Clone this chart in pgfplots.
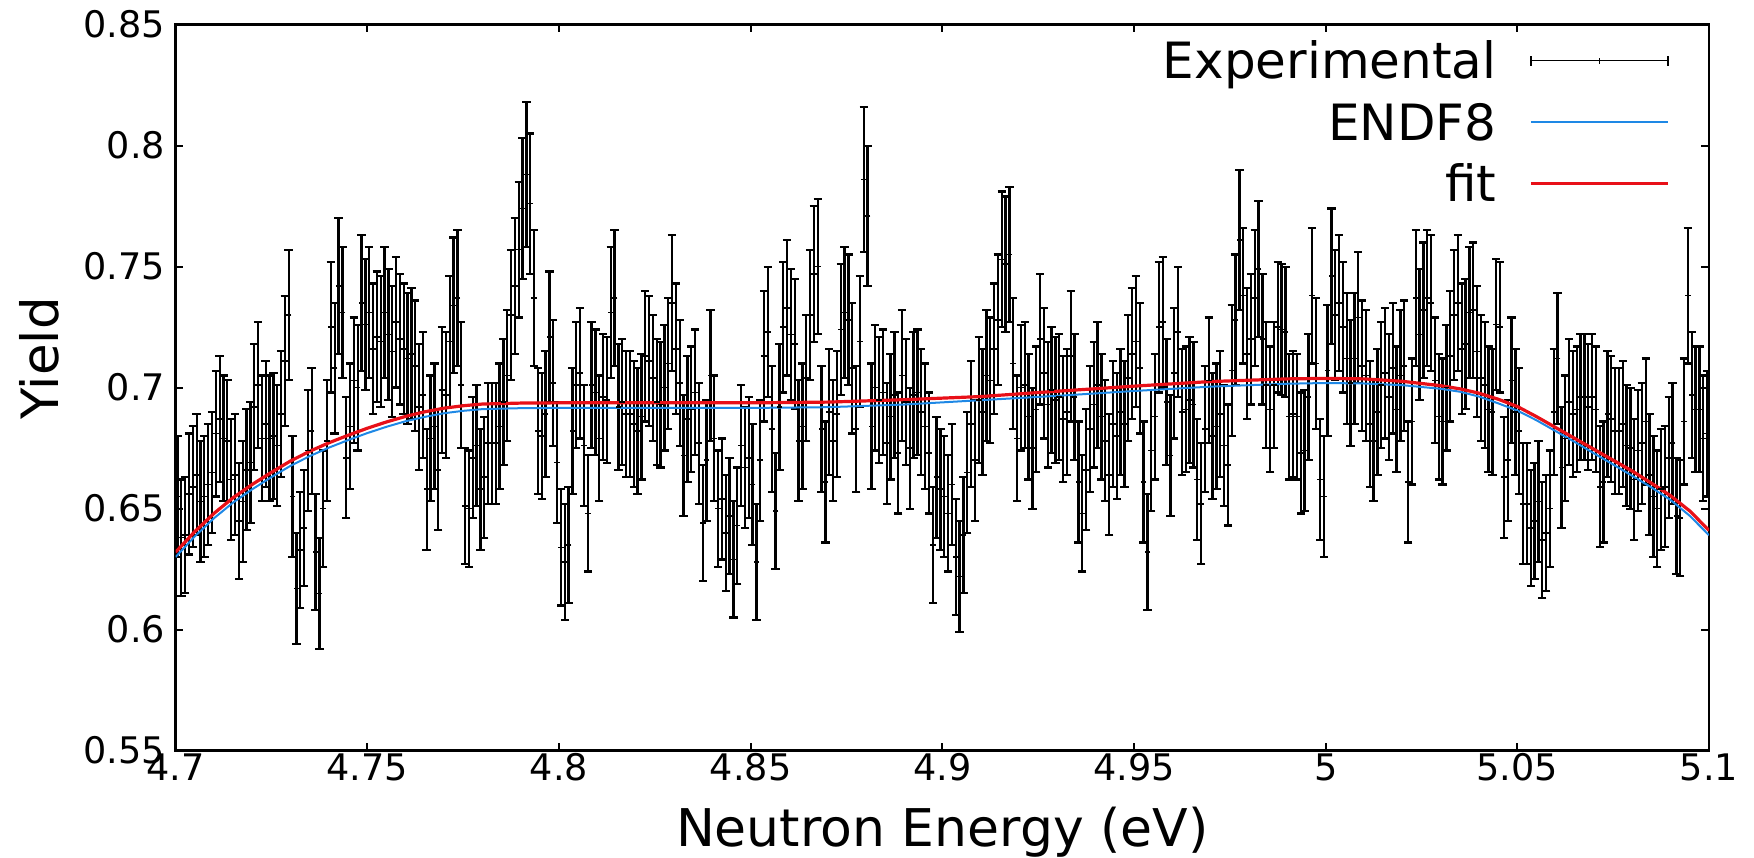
\documentclass[border=0pt]{standalone}
\usepackage{fontspec}
\setmainfont{DejaVu Sans}
\usepackage{pgfplots}
\usepackage{pgfplotstable}
\pgfplotsset{compat=1.18}
\definecolor{endfblue}{RGB}{30,136,229}
\definecolor{fitred}{RGB}{232,16,24}

\pgfplotstableread{
x y e
4.7005 0.655 0.025
4.7015 0.638 0.024
4.7025 0.639 0.024
4.7035 0.656 0.025
4.7045 0.659 0.025
4.7055 0.664 0.025
4.7065 0.653 0.025
4.7075 0.655 0.025
4.7085 0.660 0.025
4.7095 0.665 0.025
4.7105 0.681 0.026
4.7115 0.687 0.026
4.7125 0.679 0.026
4.7135 0.678 0.025
4.7145 0.662 0.025
4.7155 0.664 0.025
4.7165 0.645 0.024
4.7175 0.653 0.025
4.7185 0.666 0.025
4.7195 0.669 0.025
4.7205 0.692 0.026
4.7215 0.701 0.026
4.7225 0.679 0.026
4.7235 0.685 0.026
4.7245 0.679 0.026
4.7255 0.680 0.026
4.7265 0.676 0.025
4.7275 0.689 0.026
4.7285 0.711 0.027
4.7295 0.730 0.027
4.7305 0.655 0.025
4.7315 0.617 0.023
4.7325 0.633 0.024
4.7335 0.642 0.024
4.7345 0.674 0.025
4.7355 0.682 0.026
4.7365 0.632 0.024
4.7375 0.615 0.023
4.7385 0.650 0.024
4.7395 0.678 0.025
4.7405 0.725 0.027
4.7415 0.708 0.027
4.7425 0.742 0.028
4.7435 0.731 0.027
4.7445 0.671 0.025
4.7455 0.684 0.026
4.7465 0.703 0.026
4.7475 0.700 0.026
4.7485 0.735 0.028
4.7495 0.726 0.027
4.7505 0.731 0.027
4.7515 0.716 0.027
4.7525 0.721 0.027
4.7535 0.719 0.027
4.7545 0.731 0.027
4.7555 0.722 0.027
4.7565 0.715 0.027
4.7575 0.727 0.027
4.7585 0.720 0.027
4.7595 0.716 0.027
4.7605 0.712 0.027
4.7615 0.714 0.027
4.7625 0.709 0.027
4.7635 0.692 0.026
4.7645 0.697 0.026
4.7655 0.658 0.025
4.7665 0.679 0.026
4.7675 0.684 0.026
4.7685 0.666 0.025
4.7695 0.699 0.026
4.7705 0.697 0.026
4.7715 0.719 0.027
4.7725 0.734 0.028
4.7735 0.737 0.028
4.7745 0.701 0.026
4.7755 0.651 0.024
4.7765 0.650 0.024
4.7775 0.671 0.025
4.7785 0.676 0.025
4.7795 0.658 0.025
4.7805 0.663 0.025
4.7815 0.677 0.025
4.7825 0.677 0.025
4.7835 0.677 0.025
4.7845 0.684 0.026
4.7855 0.694 0.026
4.7865 0.705 0.027
4.7875 0.730 0.027
4.7885 0.742 0.028
4.7895 0.757 0.028
4.7905 0.774 0.029
4.7915 0.788 0.030
4.7925 0.776 0.029
4.7935 0.737 0.028
4.7945 0.682 0.026
4.7955 0.680 0.026
4.7965 0.689 0.026
4.7975 0.721 0.027
4.7985 0.702 0.026
4.7995 0.669 0.025
4.8005 0.634 0.024
4.8015 0.628 0.024
4.8025 0.635 0.024
4.8035 0.682 0.026
4.8045 0.701 0.026
4.8055 0.706 0.027
4.8065 0.676 0.025
4.8075 0.648 0.024
4.8085 0.701 0.026
4.8095 0.698 0.026
4.8105 0.679 0.026
4.8115 0.696 0.026
4.8125 0.695 0.026
4.8135 0.731 0.027
4.8145 0.737 0.028
4.8155 0.692 0.026
4.8165 0.694 0.026
4.8175 0.689 0.026
4.8185 0.689 0.026
4.8195 0.685 0.026
4.8205 0.682 0.026
4.8215 0.688 0.026
4.8225 0.713 0.027
4.8235 0.711 0.027
4.8245 0.704 0.026
4.8255 0.694 0.026
4.8265 0.693 0.026
4.8275 0.700 0.026
4.8285 0.710 0.027
4.8295 0.735 0.028
4.8305 0.716 0.027
4.8315 0.702 0.026
4.8325 0.672 0.025
4.8335 0.687 0.026
4.8345 0.691 0.026
4.8355 0.698 0.026
4.8365 0.677 0.025
4.8375 0.644 0.024
4.8385 0.670 0.025
4.8395 0.705 0.027
4.8405 0.679 0.026
4.8415 0.650 0.024
4.8425 0.654 0.025
4.8435 0.640 0.024
4.8445 0.647 0.024
4.8455 0.629 0.024
4.8465 0.643 0.024
4.8475 0.676 0.025
4.8485 0.667 0.025
4.8495 0.671 0.025
4.8505 0.660 0.025
4.8515 0.628 0.024
4.8525 0.670 0.025
4.8535 0.713 0.027
4.8545 0.723 0.027
4.8555 0.683 0.026
4.8565 0.649 0.024
4.8575 0.692 0.026
4.8585 0.725 0.027
4.8595 0.733 0.028
4.8605 0.722 0.027
4.8615 0.718 0.027
4.8625 0.678 0.025
4.8635 0.684 0.026
4.8645 0.704 0.026
4.8655 0.730 0.027
4.8665 0.747 0.028
4.8675 0.750 0.028
4.8685 0.683 0.026
4.8695 0.661 0.025
4.8705 0.690 0.026
4.8715 0.678 0.025
4.8725 0.689 0.026
4.8735 0.724 0.027
4.8745 0.731 0.027
4.8755 0.728 0.027
4.8765 0.708 0.027
4.8775 0.683 0.026
4.8785 0.719 0.027
4.8795 0.786 0.030
4.8805 0.771 0.029
4.8815 0.684 0.026
4.8825 0.700 0.026
4.8835 0.695 0.026
4.8845 0.698 0.026
4.8855 0.677 0.025
4.8865 0.688 0.026
4.8875 0.697 0.026
4.8885 0.673 0.025
4.8895 0.705 0.027
4.8905 0.694 0.026
4.8915 0.675 0.025
4.8925 0.697 0.026
4.8935 0.698 0.026
4.8945 0.690 0.026
4.8955 0.684 0.026
4.8965 0.673 0.025
4.8975 0.635 0.024
4.8985 0.663 0.025
4.8995 0.658 0.025
4.9005 0.655 0.025
4.9015 0.648 0.024
4.9025 0.660 0.025
4.9035 0.630 0.024
4.9045 0.622 0.023
4.9055 0.639 0.024
4.9065 0.665 0.025
4.9075 0.685 0.026
4.9085 0.670 0.025
4.9095 0.695 0.026
4.9105 0.690 0.026
4.9115 0.705 0.027
4.9125 0.703 0.026
4.9135 0.716 0.027
4.9145 0.728 0.027
4.9155 0.753 0.028
4.9165 0.751 0.028
4.9175 0.755 0.028
4.9185 0.710 0.027
4.9195 0.679 0.026
4.9205 0.700 0.026
4.9215 0.701 0.026
4.9225 0.688 0.026
4.9235 0.675 0.025
4.9245 0.691 0.026
4.9255 0.720 0.027
4.9265 0.706 0.027
4.9275 0.693 0.026
4.9285 0.699 0.026
4.9295 0.695 0.026
4.9305 0.696 0.026
4.9315 0.687 0.026
4.9325 0.690 0.026
4.9335 0.713 0.027
4.9345 0.696 0.026
4.9355 0.661 0.025
4.9365 0.648 0.024
4.9375 0.666 0.025
4.9385 0.683 0.026
4.9395 0.693 0.026
4.9405 0.701 0.026
4.9415 0.688 0.026
4.9425 0.678 0.025
4.9435 0.664 0.025
4.9445 0.685 0.026
4.9455 0.680 0.026
4.9465 0.690 0.026
4.9475 0.685 0.026
4.9485 0.704 0.026
4.9495 0.714 0.027
4.9505 0.719 0.027
4.9515 0.708 0.027
4.9525 0.661 0.025
4.9535 0.632 0.024
4.9545 0.674 0.025
4.9555 0.688 0.026
4.9565 0.725 0.027
4.9575 0.727 0.027
4.9585 0.694 0.026
4.9595 0.672 0.025
4.9605 0.706 0.027
4.9615 0.723 0.027
4.9625 0.690 0.026
4.9635 0.691 0.026
4.9645 0.695 0.026
4.9655 0.693 0.026
4.9665 0.662 0.025
4.9675 0.652 0.025
4.9685 0.683 0.026
4.9695 0.703 0.026
4.9705 0.680 0.026
4.9715 0.684 0.026
4.9725 0.689 0.026
4.9735 0.676 0.025
4.9745 0.668 0.025
4.9755 0.707 0.027
4.9765 0.728 0.027
4.9775 0.761 0.029
4.9785 0.738 0.028
4.9795 0.714 0.027
4.9805 0.720 0.027
4.9815 0.737 0.028
4.9825 0.749 0.028
4.9835 0.720 0.027
4.9845 0.701 0.026
4.9855 0.691 0.026
4.9865 0.701 0.026
4.9875 0.725 0.027
4.9885 0.724 0.027
4.9895 0.723 0.027
4.9905 0.688 0.026
4.9915 0.689 0.026
4.9925 0.688 0.026
4.9935 0.673 0.025
4.9945 0.674 0.025
4.9955 0.696 0.026
4.9965 0.738 0.028
4.9975 0.710 0.027
4.9985 0.662 0.025
4.9995 0.655 0.025
5.0005 0.707 0.027
5.0015 0.746 0.028
5.0025 0.730 0.027
5.0035 0.735 0.028
5.0045 0.725 0.027
5.0055 0.712 0.027
5.0065 0.702 0.026
5.0075 0.712 0.027
5.0085 0.729 0.027
5.0095 0.709 0.027
5.0105 0.705 0.027
5.0115 0.685 0.026
5.0125 0.678 0.025
5.0135 0.690 0.026
5.0145 0.701 0.026
5.0155 0.706 0.027
5.0165 0.696 0.026
5.0175 0.708 0.027
5.0185 0.691 0.026
5.0195 0.705 0.027
5.0205 0.709 0.027
5.0215 0.661 0.025
5.0225 0.686 0.026
5.0235 0.737 0.028
5.0245 0.722 0.027
5.0255 0.732 0.028
5.0265 0.737 0.028
5.0275 0.735 0.028
5.0285 0.703 0.026
5.0295 0.688 0.026
5.0305 0.686 0.026
5.0315 0.700 0.026
5.0325 0.713 0.027
5.0335 0.730 0.027
5.0345 0.735 0.028
5.0355 0.716 0.027
5.0365 0.718 0.027
5.0375 0.731 0.027
5.0385 0.732 0.028
5.0395 0.715 0.027
5.0405 0.704 0.026
5.0415 0.701 0.026
5.0425 0.691 0.026
5.0435 0.690 0.026
5.0445 0.726 0.027
5.0455 0.725 0.027
5.0465 0.663 0.025
5.0475 0.670 0.025
5.0485 0.703 0.026
5.0495 0.690 0.026
5.0505 0.682 0.026
5.0515 0.652 0.025
5.0525 0.652 0.025
5.0535 0.642 0.024
5.0545 0.645 0.024
5.0555 0.653 0.025
5.0565 0.637 0.024
5.0575 0.640 0.024
5.0585 0.650 0.024
5.0595 0.690 0.026
5.0605 0.712 0.027
5.0615 0.667 0.025
5.0625 0.679 0.026
5.0635 0.694 0.026
5.0645 0.689 0.026
5.0655 0.691 0.026
5.0665 0.696 0.026
5.0675 0.696 0.026
5.0685 0.692 0.026
5.0695 0.696 0.026
5.0705 0.691 0.026
5.0715 0.659 0.025
5.0725 0.661 0.025
5.0735 0.689 0.026
5.0745 0.687 0.026
5.0755 0.682 0.026
5.0765 0.682 0.026
5.0775 0.685 0.026
5.0785 0.676 0.025
5.0795 0.675 0.025
5.0805 0.662 0.025
5.0815 0.674 0.025
5.0825 0.677 0.025
5.0835 0.686 0.026
5.0845 0.664 0.025
5.0855 0.655 0.025
5.0865 0.650 0.024
5.0875 0.658 0.025
5.0885 0.659 0.025
5.0895 0.671 0.025
5.0905 0.677 0.025
5.0915 0.647 0.024
5.0925 0.646 0.024
5.0935 0.686 0.026
5.0945 0.738 0.028
5.0955 0.697 0.026
5.0965 0.691 0.026
5.0975 0.691 0.026
5.0985 0.679 0.026
5.0995 0.681 0.026
}\expdata

\pgfplotstableread{
x y
4.700 0.6300
4.705 0.6385
4.710 0.6460
4.715 0.6525
4.720 0.6580
4.725 0.6630
4.730 0.6677
4.735 0.6717
4.740 0.6752
4.745 0.6783
4.750 0.6812
4.755 0.6838
4.760 0.6861
4.765 0.6879
4.770 0.6894
4.775 0.6904
4.780 0.6911
4.790 0.6915
4.800 0.6916
4.850 0.6916
4.870 0.6919
4.890 0.6930
4.910 0.6948
4.930 0.6966
4.950 0.6986
4.970 0.7004
4.990 0.7016
5.000 0.7019
5.010 0.7017
5.020 0.7010
5.030 0.6995
5.035 0.6983
5.040 0.6963
5.045 0.6935
5.050 0.6905
5.055 0.6865
5.060 0.6820
5.065 0.6775
5.070 0.6728
5.075 0.6682
5.080 0.6635
5.085 0.6587
5.090 0.6535
5.095 0.6470
5.100 0.6390
}\endfdata

\pgfplotstableread{
x y
4.700 0.6320
4.705 0.6405
4.710 0.6480
4.715 0.6545
4.720 0.6600
4.725 0.6650
4.730 0.6697
4.735 0.6737
4.740 0.6772
4.745 0.6803
4.750 0.6832
4.755 0.6858
4.760 0.6881
4.765 0.6900
4.770 0.6915
4.775 0.6925
4.780 0.6932
4.790 0.6936
4.800 0.6937
4.850 0.6937
4.870 0.6940
4.890 0.6950
4.910 0.6963
4.930 0.6985
4.950 0.7006
4.970 0.7025
4.990 0.7036
5.000 0.7038
5.010 0.7036
5.020 0.7026
5.030 0.7008
5.035 0.6995
5.040 0.6977
5.045 0.6952
5.050 0.6922
5.055 0.6880
5.060 0.6835
5.065 0.6790
5.070 0.6745
5.075 0.6700
5.080 0.6655
5.085 0.6605
5.090 0.6553
5.095 0.6490
5.100 0.6410
}\fitdata

\begin{document}
\begin{tikzpicture}
\begin{axis}[
  scale only axis, width=766.7pt, height=363pt,
  xmin=4.7, xmax=5.1, ymin=0.55, ymax=0.85,
  xtick={4.7,4.75,4.8,4.85,4.9,4.95,5,5.05,5.1},
  xticklabels={4.7,4.75,4.8,4.85,4.9,4.95,5,5.05,5.1},
  ytick={0.55,0.6,0.65,0.7,0.75,0.8,0.85},
  yticklabels={0.55,0.6,0.65,0.7,0.75,0.8,0.85},
  tick label style={font=\fontsize{18.3}{22}\selectfont},
  yticklabel style={xshift=-1.7pt},
  xticklabel style={yshift=2pt},
  tick align=inside,
  major tick length=3.8pt,
  every tick/.style={black, line width=1pt},
  axis line style={line width=1.2pt},
  xlabel={Neutron Energy (eV)}, ylabel={Yield},
  every axis x label/.style={at={(axis description cs:0.5,-0.0766)}, anchor=north, inner sep=0pt, font=\fontsize{26}{30}\selectfont},
  every axis y label/.style={at={(axis description cs:-0.089,0.54)}, anchor=center, rotate=90, inner sep=0pt, font=\fontsize{25.7}{30}\selectfont},
  legend plot pos=right,
  legend cell align=right,
  legend style={draw=none, fill=none, at={(rel axis cs:0.9745,0.984)}, anchor=north east, inner sep=0pt,
    font=\fontsize{25}{30}\selectfont, column sep=16.5pt, row sep=6.75pt,
    nodes={inner sep=0pt, text height=21pt, text depth=3pt}},
]
\addplot[black, only marks, mark=-, mark size=1.4pt, mark options={line width=0.8pt},
  legend image code/.code={
    \draw[black, line width=0.8pt] (0pt,0pt) -- (68.5pt,0pt);
    \draw[black, line width=0.8pt] (0pt,-2.5pt) -- (0pt,2.5pt);
    \draw[black, line width=0.8pt] (68.5pt,-2.5pt) -- (68.5pt,2.5pt);
    \draw[black, line width=0.8pt] (34.25pt,-1.5pt) -- (34.25pt,1.5pt);
  },
  error bars/.cd, y dir=both, y explicit,
  error bar style={line width=1.15pt, black},
  error mark options={rotate=90, mark size=2.1pt, line width=1.1pt, black},
  ] table[x=x, y=y, y error=e] {\expdata};
\addlegendentry{Experimental}
\addplot[endfblue, line width=1pt, no marks,
  legend image code/.code={\draw[endfblue, line width=1pt] (0pt,0pt) -- (68.5pt,0pt);}]
  table[x=x, y=y] {\endfdata};
\addlegendentry{ENDF8}
\addplot[fitred, line width=1.6pt, no marks,
  legend image code/.code={\draw[fitred, line width=1.6pt] (0pt,0pt) -- (68.5pt,0pt);}]
  table[x=x, y=y] {\fitdata};
\addlegendentry{fit}
\end{axis}
\pgfresetboundingbox
\path[use as bounding box] (current axis.south west) ++(-87.8pt,-53.2pt) rectangle ([shift={(22.5pt,12.3pt)}]current axis.north east);
\end{tikzpicture}
\end{document}
